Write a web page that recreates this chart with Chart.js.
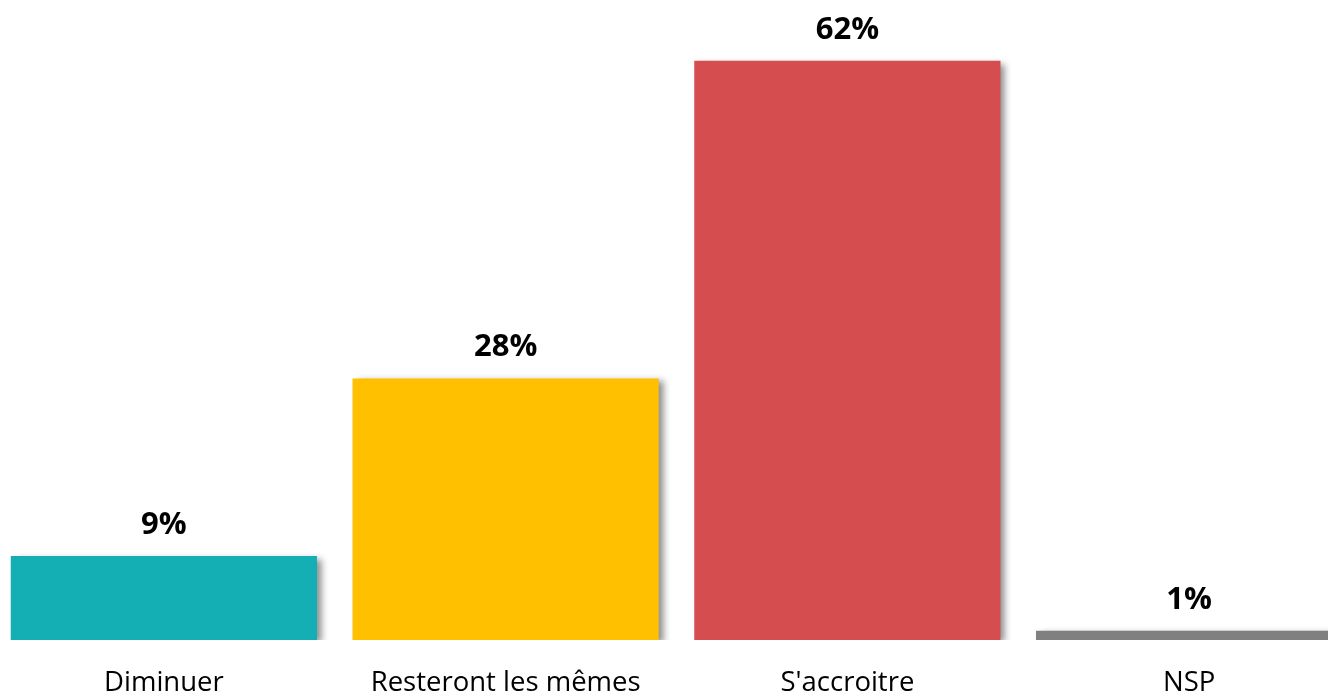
<!DOCTYPE html>
<html>
<head>
<meta charset="utf-8">
<script src="https://cdn.jsdelivr.net/npm/chart.js@4"></script>
<style>
  html, body { margin: 0; padding: 0; background: #fff; overflow: hidden; }
  #wrap { position: absolute; left: -7px; top: 0; width: 1367px; height: 727px; }
</style>
</head>
<body>
<div id="wrap"><canvas id="canvas"></canvas></div>
<script>
const categories = ["Diminuer", "Resteront les mêmes", "S'accroitre", "NSP"];
const values = [9, 28, 62, 1];
const barColors = ["#13AFB5", "#FFC000", "#D64D4F", "#808080"];

// bar shadow, like the office chart
const shadowPlugin = {
  id: "barShadow",
  beforeDatasetDraw(chart) {
    const ctx = chart.ctx;
    ctx.save();
    ctx.shadowColor = "rgba(0,0,0,0.45)";
    ctx.shadowBlur = 7;
    ctx.shadowOffsetX = 5;
    ctx.shadowOffsetY = 3;
  },
  afterDatasetDraw(chart) {
    chart.ctx.restore();
  }
};

// value labels above bars
const valueLabels = {
  id: "valueLabels",
  afterDatasetsDraw(chart) {
    const ctx = chart.ctx;
    const meta = chart.getDatasetMeta(0);
    ctx.save();
    ctx.font = "bold 31px 'Open Sans'";
    ctx.fillStyle = "#000";
    ctx.textAlign = "center";
    ctx.textBaseline = "alphabetic";
    meta.data.forEach((bar, i) => {
      ctx.fillText(values[i] + "%", bar.x, bar.y - 22);
    });
    ctx.restore();
  }
};

new Chart(document.getElementById("canvas").getContext("2d"), {
  type: "bar",
  data: {
    labels: categories,
    datasets: [
      {
        data: values,
        backgroundColor: barColors,
        borderWidth: 0,
        categoryPercentage: 1,
        barPercentage: 0.896
      }
    ]
  },
  options: {
    responsive: true,
    maintainAspectRatio: false,
    animation: false,
    layout: { padding: 0 },
    plugins: {
      legend: { display: false },
      tooltip: { enabled: false }
    },
    scales: {
      x: {
        grid: { display: false, drawTicks: false },
        border: { display: false },
        ticks: {
          color: "#000",
          font: { family: "'Open Sans'", size: 27.5 },
          padding: 27,
          maxRotation: 0
        }
      },
      y: {
        display: false,
        min: 0,
        max: 68.5
      }
    }
  },
  plugins: [shadowPlugin, valueLabels]
});
</script>
</body>
</html>
